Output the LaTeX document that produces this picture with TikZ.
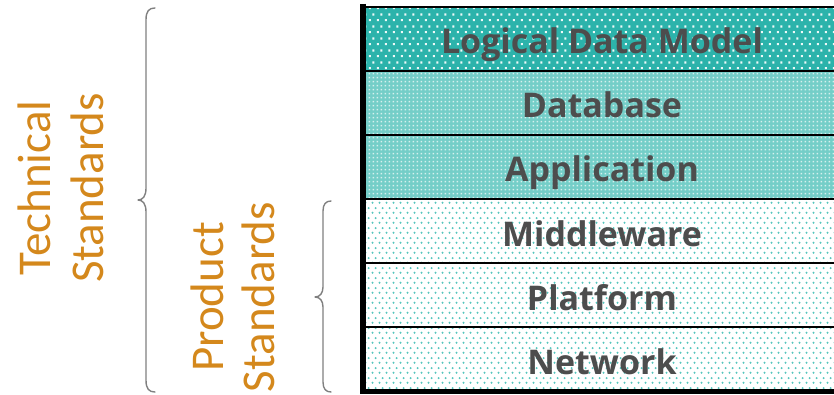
\documentclass[tikz,border=0pt]{standalone}
\usepackage{fontspec}
\newfontfamily\carl{Carlito}
\newfontfamily\osans{Open Sans}
\usetikzlibrary{patterns}
\pgfdeclarepatternformonly{topdots}{\pgfqpoint{0pt}{0pt}}{\pgfqpoint{8pt}{12pt}}{\pgfqpoint{8pt}{12pt}}{%
  \pgfpathrectangle{\pgfqpoint{1pt}{2pt}}{\pgfqpoint{2.2pt}{2.2pt}}%
  \pgfpathrectangle{\pgfqpoint{5pt}{8pt}}{\pgfqpoint{2.2pt}{2.2pt}}%
  \pgfusepath{fill}}
\pgfdeclarepatternformonly{middots}{\pgfqpoint{0pt}{0pt}}{\pgfqpoint{3.5pt}{3.5pt}}{\pgfqpoint{3.5pt}{3.5pt}}{%
  \pgfpathrectangle{\pgfqpoint{0.8pt}{0.8pt}}{\pgfqpoint{1.5pt}{1.5pt}}%
  \pgfusepath{fill}}
\pgfdeclarepatternformonly{lowdots}{\pgfqpoint{0pt}{0pt}}{\pgfqpoint{7pt}{10pt}}{\pgfqpoint{7pt}{10pt}}{%
  \pgfpathcircle{\pgfqpoint{1.75pt}{2.5pt}}{1.2pt}%
  \pgfpathcircle{\pgfqpoint{5.25pt}{7.5pt}}{1.2pt}%
  \pgfusepath{fill}}
\definecolor{tealdark}{HTML}{2CB3AB}
\definecolor{tealmid}{HTML}{74CEC8}
\definecolor{tealdot}{HTML}{55C5BD}
\definecolor{txtgray}{HTML}{4D4D4D}
\definecolor{orangelbl}{HTML}{D4881C}
\definecolor{bracegray}{HTML}{808080}
\tikzset{
  rowlabel/.style={anchor=base, text=txtgray, font=\osans\bfseries\fontsize{34}{40}\selectfont, inner sep=0pt},
  sidelabel/.style={anchor=base, rotate=90, text=orangelbl, font=\carl\fontsize{47}{52}\selectfont, inner sep=0pt},
  bracestyle/.style={draw=bracegray, line width=1.4pt, line join=round, line cap=round},
  rowline/.style={draw=black, line width=2pt},
}
\begin{document}
\begin{tikzpicture}[x=1pt,y=-1pt]
\useasboundingbox (0,0) rectangle (834,395);
% fills
\fill[tealdark] (362,7.5) rectangle (840,71);
\fill[pattern=topdots, pattern color=white!92!tealdark] (362,7.5) rectangle (840,71);
\fill[tealmid] (362,71) rectangle (840,199);
\fill[pattern=middots, pattern color=white!70!tealmid] (362,71) rectangle (840,199);
\fill[white] (362,199) rectangle (840,391);
\fill[pattern=lowdots, pattern color=tealdot] (362,199) rectangle (840,391);
% row lines
\draw[rowline] (362,7.5) -- (840,7.5);
\draw[rowline] (362,71) -- (840,71);
\draw[rowline] (362,135) -- (840,135);
\draw[rowline] (362,199) -- (840,199);
\draw[rowline] (362,263) -- (840,263);
\draw[rowline] (362,327) -- (840,327);
\draw[draw=black, line width=5pt] (362,391) -- (840,391);
\draw[draw=black, line width=6pt] (362.5,4) -- (362.5,394);
% row labels
\node[rowlabel] (ldm) at (602,54) {Logical Data Model};
\node[rowlabel] (db) at (602,118) {Database};
\node[rowlabel] (app) at (602,182) {Application};
\node[rowlabel] (mid) at (602,246) {Middleware};
\node[rowlabel] (plat) at (602,310) {Platform};
\node[rowlabel] (net) at (602,374) {Network};
% side labels
\node[sidelabel] (tech1) at (50,188) {Technical};
\node[sidelabel] (tech2) at (103,188) {Standards};
\node[sidelabel] (prod1) at (223,297) {Product};
\node[sidelabel] (prod2) at (274,297) {Standards};
% braces
\draw[bracestyle] (155,8) .. controls (149,8) and (146,11) .. (146,20) -- (146,188)
  .. controls (146,196) and (143,200) .. (138,200)
  .. controls (143,200) and (146,204) .. (146,212) -- (146,380)
  .. controls (146,389) and (149,392) .. (155,392);
\draw[bracestyle] (331,201) .. controls (326,201) and (323,204) .. (323,211) -- (323,287)
  .. controls (323,293) and (320,297) .. (315,297)
  .. controls (320,297) and (323,301) .. (323,307) -- (323,382)
  .. controls (323,389) and (326,392) .. (331,392);
\end{tikzpicture}
\end{document}
